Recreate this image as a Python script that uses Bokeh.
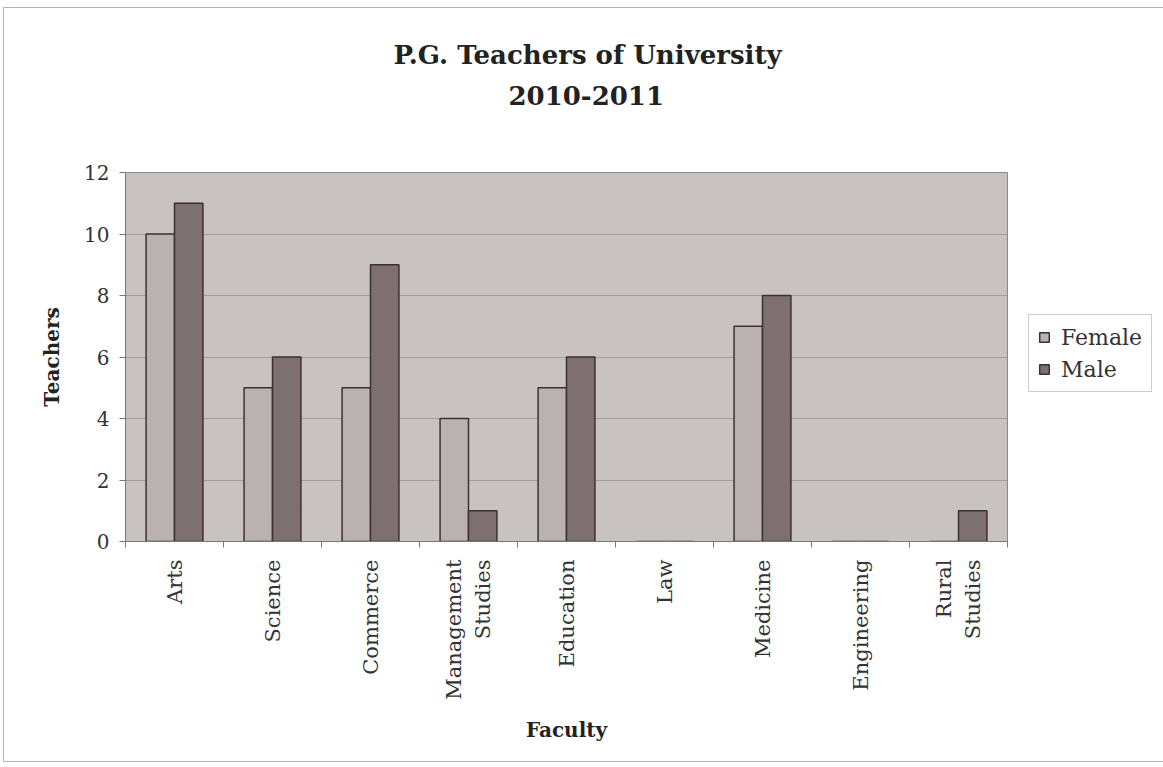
import numpy as np
from bokeh.plotting import figure
from bokeh.models import FixedTicker, Legend, LegendItem, Range1d, ColumnDataSource, Title
from bokeh.embed import file_html
from bokeh.resources import INLINE

categories = ["Arts", "Science", "Commerce", "Management Studies", "Education",
              "Law", "Medicine", "Engineering", "Rural Studies"]
tick_labels = ["Arts", "Science", "Commerce", "Management\nStudies", "Education",
               "Law", "Medicine", "Engineering", "Rural\nStudies"]
female = [10, 5, 5, 4, 5, 0, 7, 0, 0]
male = [11, 6, 9, 1, 6, 0, 8, 0, 1]
y_ticks = [0, 2, 4, 6, 8, 10, 12]

SERIF = "DejaVu Serif"
centers = np.arange(len(categories)) + 0.5
bw = 0.29

p = figure(frame_width=882, frame_height=369, output_backend="svg", toolbar_location=None, title=None,
           x_range=Range1d(0, len(categories)), y_range=Range1d(0, 12),
           min_border_left=121, min_border_right=138, min_border_top=164, min_border_bottom=220)
p.styles = {"border": "1px solid #b8b2b3", "margin-left": "3px", "margin-top": "7px"}

p.add_layout(Title(text=" ", text_font_size="46px", standoff=0), "above")
for txt, standoff, off in (("2010-2011", 28, 383), ("P.G. Teachers of University", 0, 268)):
    t = Title(text=txt, align="left", text_font=SERIF, text_font_size="26px",
              text_font_style="bold", text_color="#222222", standoff=standoff, offset=off)
    p.add_layout(t, "above")

p.background_fill_color = "#c9c2c3"
p.border_fill_color = "white"
p.outline_line_color = "#8f8788"
p.outline_line_width = 1

src_f = ColumnDataSource(dict(x=centers - bw / 2, top=female))
src_m = ColumnDataSource(dict(x=centers + bw / 2, top=male))
rf = p.vbar(x="x", top="top", width=bw, source=src_f, fill_color="#bab1b3",
            line_color="#3b3133", line_width=1.5)
rm = p.vbar(x="x", top="top", width=bw, source=src_m, fill_color="#7e6f71",
            line_color="#3b3133", line_width=1.5)

p.xgrid.visible = False
p.ygrid.grid_line_color = "#a39b9c"
p.ygrid.grid_line_width = 1.2
p.yaxis.ticker = FixedTicker(ticks=y_ticks)

p.xaxis.ticker = FixedTicker(ticks=list(centers), minor_ticks=list(range(len(categories) + 1)))
p.xaxis.major_label_overrides = {float(c): t for c, t in zip(centers, tick_labels)}
p.xaxis.minor_tick_line_color = "#777777"
p.xaxis.minor_tick_out = 6
p.xaxis.minor_tick_in = 0
p.xaxis.major_label_orientation = np.pi / 2
p.xaxis.major_label_standoff = 12

p.yaxis.minor_tick_line_color = None
p.yaxis.major_tick_out = 6
p.yaxis.major_tick_in = 0
p.yaxis.major_label_standoff = 10

for ax in (p.xaxis, p.yaxis):
    ax.axis_line_color = "#777777"
    ax.major_label_text_font = SERIF
    ax.major_label_text_color = "#333333"
    ax.axis_label_text_font = SERIF
    ax.axis_label_text_font_size = "20px"
    ax.axis_label_text_font_style = "bold"
    ax.axis_label_text_color = "#222222"
p.xaxis.major_label_text_font_size = "21px"
p.yaxis.major_label_text_font_size = "20px"
p.xaxis.major_tick_line_color = None
p.yaxis.major_tick_line_color = "#777777"

p.xaxis.axis_label = "Faculty"
p.yaxis.axis_label = "Teachers"
p.xaxis.axis_label_standoff = 15
p.yaxis.axis_label_standoff = 17

legend = Legend(items=[LegendItem(label="Female", renderers=[rf]),
                       LegendItem(label="Male", renderers=[rm])],
                location=(21, 149))
legend.label_text_font = SERIF
legend.label_text_font_size = "22px"
legend.label_text_color = "#333333"
legend.label_height = 26
legend.label_standoff = 11
legend.border_line_color = "#9a9a9a"
legend.background_fill_color = "white"
legend.glyph_width = 12
legend.glyph_height = 12
legend.spacing = 6
legend.padding = 9
legend.margin = 0
p.add_layout(legend, "right")

open("out.html", "w").write(file_html(p, INLINE))
